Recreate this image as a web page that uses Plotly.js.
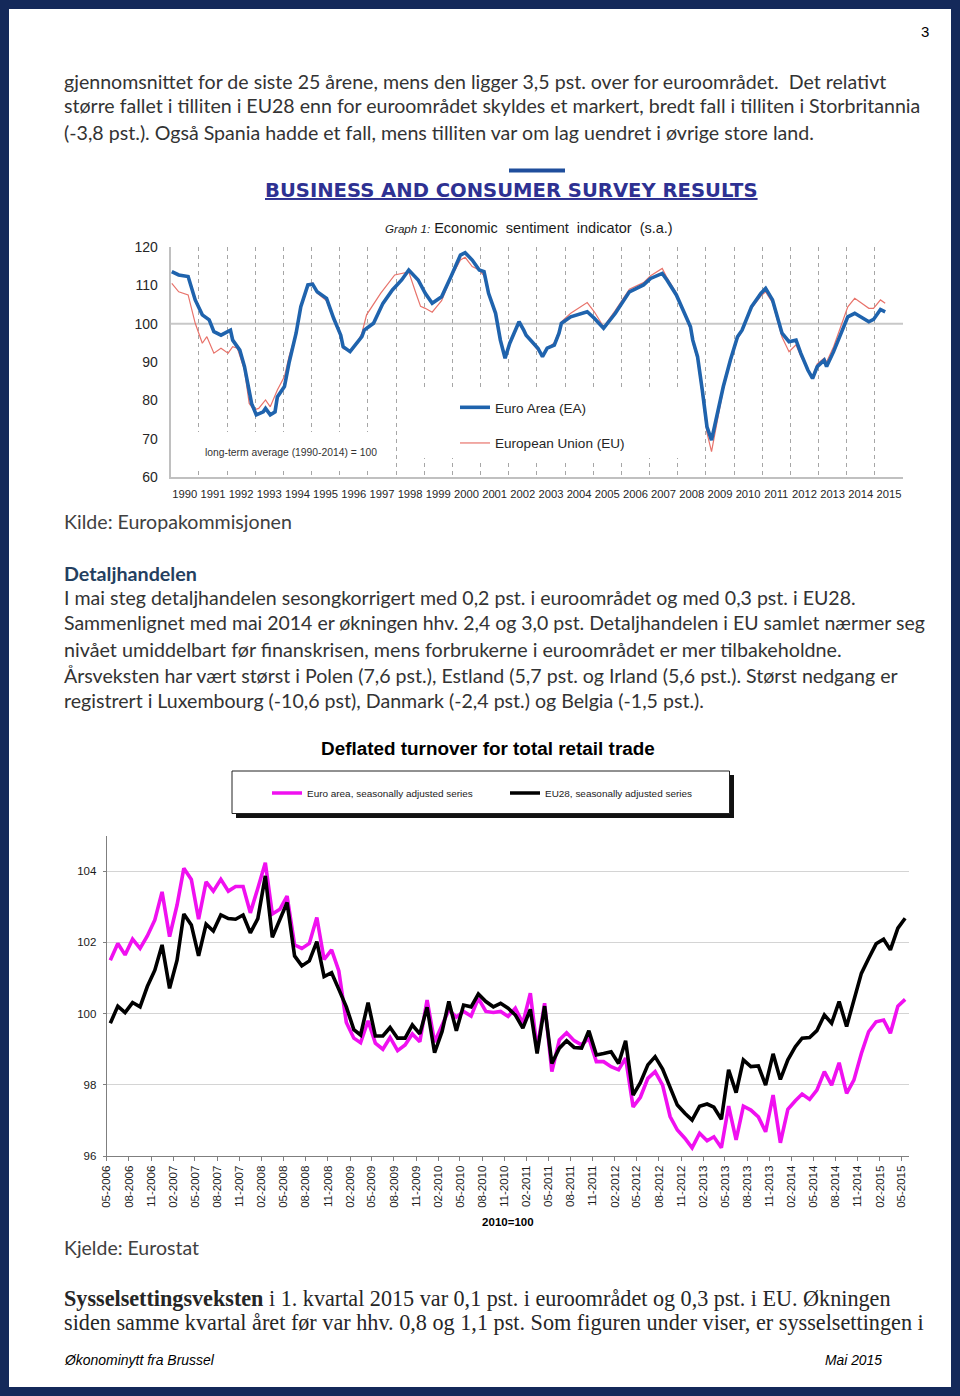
<!DOCTYPE html>
<html><head><meta charset="utf-8">
<script src="https://cdn.plot.ly/plotly-3.0.1.min.js"></script>
<style>html,body{margin:0;padding:0;background:#fff}#page{width:960px;height:1396px}</style>
</head><body><div id="page"></div>
<script>
// ================= DATA =================
// Graph 1: Economic sentiment indicator (s.a.)
const esiDatesEA = ['1990-01','1990-04','1990-08','1990-11','1991-02','1991-05','1991-07','1991-10','1992-02','1992-03','1992-06','1992-08','1992-11','1993-01','1993-04','1993-05','1993-07','1993-09','1993-10','1994-01','1994-03','1994-06','1994-08','1994-11','1995-01','1995-03','1995-07','1995-10','1996-01','1996-02','1996-05','1996-08','1996-10','1996-11','1997-03','1997-07','1997-11','1998-03','1998-06','1998-10','1999-01','1999-04','1999-08','1999-12','2000-04','2000-06','2000-09','2000-12','2001-02','2001-04','2001-07','2001-09','2001-11','2002-01','2002-05','2002-07','2002-08','2003-01','2003-03','2003-05','2003-08','2003-10','2003-11','2004-03','2004-10','2005-01','2005-05','2005-10','2006-04','2006-10','2007-01','2007-06','2007-08','2007-12','2008-03','2008-06','2008-07','2008-09','2008-11','2009-01','2009-03','2009-05','2009-08','2009-11','2010-02','2010-04','2010-08','2010-12','2011-02','2011-05','2011-08','2011-09','2011-12','2012-03','2012-05','2012-08','2012-10','2012-12','2013-03','2013-04','2013-07','2013-10','2014-01','2014-04','2014-10','2014-12','2015-03','2015-05'];
const esiEA = [113.6,112.7,112.3,106.2,102.3,101.0,97.9,97.0,98.3,95.7,93.1,88.8,79.2,76.2,77.0,77.9,76.2,77.0,80.9,83.6,89.7,97.5,104.4,110.1,110.3,108.3,106.6,101.4,97.0,94.0,92.7,94.9,96.6,98.3,100.1,105.3,108.8,111.4,114.0,111.4,107.9,105.3,107.0,112.3,117.9,118.5,116.6,114.0,113.6,107.9,102.7,95.7,91.0,94.9,100.5,98.3,97.0,93.6,91.4,93.6,94.4,97.5,100.1,101.8,103.1,101.4,98.8,102.7,108.3,110.1,111.8,113.1,111.4,107.5,103.6,99.2,95.7,91.4,82.7,73.1,69.6,74.9,83.6,90.5,96.6,98.3,104.4,107.9,109.2,106.2,99.2,97.5,95.3,95.7,92.3,87.9,85.7,88.8,90.5,88.8,92.7,97.5,101.8,102.7,100.5,101.1,103.7,103.1];
const esiDatesEU = ['1990-01','1990-04','1990-08','1990-11','1991-02','1991-04','1991-07','1991-10','1992-01','1992-03','1992-05','1992-08','1992-10','1992-12','1993-02','1993-05','1993-07','1993-10','1994-01','1994-03','1994-06','1994-08','1994-11','1995-01','1995-03','1995-07','1995-10','1996-01','1996-02','1996-05','1996-08','1996-10','1996-12','1997-06','1997-12','1998-03','1998-06','1998-09','1998-11','1999-01','1999-04','1999-06','1999-08','1999-12','2000-04','2000-06','2000-09','2000-12','2001-02','2001-04','2001-07','2001-09','2001-11','2002-01','2002-05','2002-07','2002-08','2003-01','2003-03','2003-05','2003-08','2003-10','2003-11','2004-03','2004-10','2005-01','2005-05','2005-10','2006-04','2006-10','2007-01','2007-06','2007-08','2007-12','2008-03','2008-06','2008-07','2008-09','2008-11','2009-01','2009-03','2009-05','2009-08','2009-11','2010-02','2010-04','2010-08','2010-12','2011-02','2011-05','2011-08','2011-09','2011-12','2012-03','2012-05','2012-08','2012-10','2012-12','2013-03','2013-04','2013-07','2013-10','2014-01','2014-04','2014-10','2014-12','2015-03','2015-05'];
const esiEU = [110.5,108.3,107.5,100.1,94.9,96.6,92.3,93.6,92.3,94.0,93.6,87.9,79.2,77.5,77.9,80.1,78.3,82.7,86.2,91.4,97.5,104.4,110.3,110.6,108.0,106.0,101.0,96.5,93.5,92.8,95.0,97.5,102.3,107.9,112.7,113.0,113.5,108.0,104.5,104.0,103.0,104.5,106.0,112.0,116.6,117.3,114.9,114.0,112.5,107.5,102.5,96.0,91.5,95.0,100.0,98.0,97.0,93.0,91.5,93.5,95.0,98.0,100.5,102.7,105.5,103.1,99.2,103.5,109.0,110.7,112.5,114.4,112.0,108.0,103.5,98.5,95.0,90.5,81.5,71.5,66.6,73.5,83.0,90.0,96.0,98.0,104.0,107.2,108.3,105.5,98.5,96.5,92.7,94.5,91.5,88.0,86.2,89.5,91.0,90.0,94.0,99.0,104.4,106.6,104.0,104.0,106.2,105.3];
const longTermAverage = 100;

// Deflated turnover for total retail trade (2010=100), monthly from 05-2006
const retailStart = [2006, 5];
const retailEA = [101.5,101.97,101.65,102.09,101.83,102.18,102.63,103.42,102.16,103.05,104.08,103.77,102.65,103.7,103.44,103.77,103.44,103.57,103.57,102.83,103.52,104.24,102.8,102.93,103.3,101.93,101.83,101.97,102.7,101.52,101.79,101.2,99.75,99.31,99.18,99.8,99.17,99.0,99.33,98.96,99.12,99.43,99.21,100.38,99.2,99.7,100.1,99.9,100.06,99.93,100.43,100.06,100.03,100.06,99.92,100.15,99.73,100.57,99.0,100.29,98.37,99.26,99.46,99.24,99.12,99.31,98.65,98.65,98.51,98.42,98.75,97.38,97.65,98.18,98.37,97.99,97.11,96.73,96.5,96.23,96.64,96.43,96.54,96.23,97.4,96.45,97.4,97.29,97.1,96.68,97.71,96.37,97.31,97.55,97.74,97.59,97.85,98.37,97.99,98.62,97.76,98.13,98.88,99.49,99.77,99.82,99.45,100.21,100.4];
const retailEU28 = [99.73,100.21,100.03,100.31,100.19,100.76,101.22,101.93,100.71,101.5,102.8,102.49,101.62,102.51,102.32,102.77,102.67,102.65,102.77,102.27,102.67,103.87,102.14,102.63,103.12,101.62,101.34,101.48,102.02,101.04,101.15,100.68,100.19,99.55,99.4,100.31,99.37,99.37,99.61,99.31,99.31,99.68,99.43,100.18,98.9,99.5,100.34,99.52,100.24,100.19,100.55,100.34,100.19,100.29,100.15,99.96,99.59,100.12,98.88,100.21,98.6,99.03,99.24,99.05,99.03,99.52,98.84,98.88,98.93,98.6,99.24,97.71,98.06,98.56,98.79,98.44,97.91,97.43,97.2,97.01,97.4,97.46,97.37,97.03,98.42,97.78,98.7,98.51,98.53,97.99,98.87,98.15,98.7,99.07,99.31,99.33,99.52,99.96,99.73,100.34,99.64,100.38,101.13,101.55,101.96,102.09,101.79,102.4,102.68];

// ================= LAYOUT HELPERS =================
const W = 960, H = 1396;
const px = x => x / W, py = y => 1 - y / H;
const cv = document.createElement('canvas').getContext('2d');
function measure(parts, family) {
  let w = 0;
  for (const p of parts) {
    cv.font = (p.i ? 'italic ' : '') + (p.b ? 'bold ' : '') + '100px ' + family;
    w += cv.measureText(p.t).width * (p.r || 1);
  }
  return w / 100;
}
const fit = (parts, family, target) => target / measure(parts, family);

const BODY = 'Lato, "Open Sans", sans-serif';
const SERIF = '"Liberation Serif", "DejaVu Serif", serif';
const ARIAL = '"Liberation Sans", Arial, sans-serif';
const NARROW = '"Liberation Sans Narrow", "Arial Narrow", "Liberation Sans", Arial, sans-serif';
const VERD = '"DejaVu Sans", Verdana, sans-serif';

const annotations = [];
function textLine(html, parts, family, x, y, targetW, color, anchor) {
  const size = fit(parts, family, targetW);
  annotations.push({xref: 'paper', yref: 'paper', x: px(x), y: py(y), xanchor: anchor || 'left', yanchor: 'middle',
    text: html, showarrow: false, borderpad: 0, borderwidth: 0, align: 'left',
    font: {family: family, size: size, color: color || '#333333'}});
}
const plain = (t, x, y, w, fam, col) => textLine(t, [{t}], fam || BODY, x, y, w, col);

// Body text, top
plain('gjennomsnittet for de siste 25 årene, mens den ligger 3,5 pst. over for euroområdet.  Det relativt', 64, 81, 824);
plain('større fallet i tilliten i EU28 enn for euroområdet skyldes et markert, bredt fall i tilliten i Storbritannia', 64, 106, 857);
plain('(-3,8 pst.). Også Spania hadde et fall, mens tilliten var om lag uendret i øvrige store land.', 64, 132, 751);
annotations.push({xref:'paper',yref:'paper',x:px(925),y:py(32),xanchor:'center',yanchor:'middle',text:'3',showarrow:false,borderpad:0,font:{family:ARIAL,size:15,color:'#000'}});

// Graph 1 headings
textLine('<b><u>BUSINESS AND CONSUMER SURVEY RESULTS</u></b>', [{t:'BUSINESS AND CONSUMER SURVEY RESULTS', b:1}], VERD, 511, 190, 493, '#2e3192', 'center');
(function(){
  const parts = [{t:'Graph 1: ', i:1, r:0.8}, {t:'Economic  sentiment  indicator  (s.a.)'}];
  const s = fit(parts, NARROW, 287);
  annotations.push({xref:'paper',yref:'paper',x:px(385),y:py(228),xanchor:'left',yanchor:'middle',showarrow:false,borderpad:0,borderwidth:0,
    text:'<span style="font-size:'+(s*0.8).toFixed(2)+'px"><i>Graph 1:</i></span> Economic  sentiment  indicator  (s.a.)',
    font:{family:NARROW,size:s,color:'#1a1a1a'}});
})();
plain('long-term average (1990-2014) = 100', 205, 452, 172, NARROW, '#333333');

plain('Kilde: Europakommisjonen', 64, 521, 228, BODY, '#404040');
textLine('<b>Detaljhandelen</b>', [{t:'Detaljhandelen', b:1}], BODY, 64, 573, 133, '#243f60');
plain('I mai steg detaljhandelen sesongkorrigert med 0,2 pst. i euroområdet og med 0,3 pst. i EU28.', 64, 598, 792);
plain('Sammenlignet med mai 2014 er økningen hhv. 2,4 og 3,0 pst. Detaljhandelen i EU samlet nærmer seg', 64, 623, 862);
plain('nivået umiddelbart før finanskrisen, mens forbrukerne i euroområdet er mer tilbakeholdne.', 64, 649, 779);
plain('Årsveksten har vært størst i Polen (7,6 pst.), Estland (5,7 pst. og Irland (5,6 pst.). Størst nedgang er', 64, 675, 835);
plain('registrert i Luxembourg (-10,6 pst), Danmark (-2,4 pst.) og Belgia (-1,5 pst.).', 64, 700, 640);

// Graph 2 title
textLine('<b>Deflated turnover for total retail trade</b>', [{t:'Deflated turnover for total retail trade', b:1}], ARIAL, 488, 748, 334, '#000000', 'center');

plain('Kjelde: Eurostat', 64, 1247, 135, BODY, '#404040');
textLine('<b>Sysselsettingsveksten</b> i 1. kvartal 2015 var 0,1 pst. i euroområdet og 0,3 pst. i EU. Økningen',
  [{t:'Sysselsettingsveksten', b:1}, {t:' i 1. kvartal 2015 var 0,1 pst. i euroområdet og 0,3 pst. i EU. Økningen'}], SERIF, 64, 1298, 827, '#262626');
plain('siden samme kvartal året før var hhv. 0,8 og 1,1 pst. Som figuren under viser, er sysselsettingen i', 64, 1322, 860, SERIF, '#262626');
textLine('<i>Økonominytt fra Brussel</i>', [{t:'Økonominytt fra Brussel', i:1}], ARIAL, 64, 1360, 149, '#000');
textLine('<i>Mai 2015</i>', [{t:'Mai 2015', i:1}], ARIAL, 825, 1360, 57, '#000');

// ================= TRACES =================
const retailDates = retailEA.map((_, k) => {
  const m0 = retailStart[1] - 1 + k;
  const y = retailStart[0] + Math.floor(m0 / 12), m = (m0 % 12) + 1;
  return y + '-' + String(m).padStart(2, '0') + '-16';
});
const esiX = d => d.map(s => s + '-15');

const traces = [
  {x: esiX(esiDatesEU), y: esiEU, name: 'European Union (EU)', type: 'scatter', mode: 'lines',
   line: {color: '#e8736b', width: 1.2}, xaxis: 'x', yaxis: 'y', legend: 'legend', legendgroup: 'eu', legendrank: 2},
  {x: esiX(esiDatesEA), y: esiEA, name: 'Euro Area (EA)', type: 'scatter', mode: 'lines',
   line: {color: '#1f63ad', width: 3.6}, xaxis: 'x', yaxis: 'y', legend: 'legend', legendgroup: 'ea', legendrank: 1},
  {x: retailDates, y: retailEA, name: 'Euro area, seasonally adjusted series', type: 'scatter', mode: 'lines',
   line: {color: '#f010f0', width: 3.6}, xaxis: 'x2', yaxis: 'y2', legend: 'legend2'},
  {x: retailDates, y: retailEU28, name: 'EU28, seasonally adjusted series', type: 'scatter', mode: 'lines',
   line: {color: '#000000', width: 3.6}, xaxis: 'x2', yaxis: 'y2', legend: 'legend2'}
];

// chart geometry (pixels)
const c1 = {x0: 170.7, x1: 903, y0: 477, y1: 247};
const c2 = {x0: 106.7, x1: 909, y0: 1156, y1: 835.6};

const legFont = fit([{t:'Euro Area (EA)'}], NARROW, 92);
const xtickSize = fit([{t:'1990'}], NARROW, 25);
const leg2Font = fit([{t:'Euro area, seasonally adjusted series'}], ARIAL, 166);

const pr = (x0, y0, x1, y1, fill, extra) => Object.assign({type: 'rect', xref: 'paper', yref: 'paper',
  x0: px(x0), x1: px(x1), y0: py(y1), y1: py(y0), fillcolor: fill, line: {width: 0}}, extra || {});

const layout = {
  width: W, height: H, margin: {l: 0, r: 0, t: 0, b: 0},
  paper_bgcolor: '#ffffff', plot_bgcolor: 'rgba(0,0,0,0)',
  showlegend: true,
  xaxis: {type: 'date', domain: [px(c1.x0), px(c1.x1)], anchor: 'y', range: ['1990-01-01', '2016-01-01'],
    tick0: '1990-01-01', dtick: 'M12', tickformat: '%Y', ticklabelmode: 'period',
    showgrid: true, gridcolor: '#a6a6a6', griddash: '4px,4px', gridwidth: 1,
    showline: true, linecolor: '#c0c0c0', linewidth: 2, ticks: '', zeroline: false,
    tickfont: {family: NARROW, size: xtickSize, color: '#262626'}, ticklabelstandoff: 6},
  yaxis: {domain: [py(c1.y0), py(c1.y1)], anchor: 'x', range: [60, 120], tick0: 60, dtick: 10,
    showgrid: false, showline: true, linecolor: '#c0c0c0', linewidth: 2, ticks: '', zeroline: false,
    tickfont: {family: NARROW, size: 14, color: '#262626'}, ticklabelstandoff: 8},
  xaxis2: {type: 'date', domain: [px(c2.x0), px(c2.x1)], anchor: 'y2', range: ['2006-05-01', '2015-06-01'],
    tick0: '2006-05-01', dtick: 'M3', tickformat: '%m-%Y', tickangle: -90,
    showgrid: false, showline: true, linecolor: '#7f7f7f', linewidth: 1, ticks: 'outside', ticklen: 4, tickcolor: '#7f7f7f',
    tickfont: {family: ARIAL, size: 11.5, color: '#1a1a1a'}, zeroline: false,
    title: {text: '<b>2010=100</b>', font: {family: ARIAL, size: 11.5, color: '#000'}, standoff: 11}},
  yaxis2: {domain: [py(c2.y0), py(c2.y1)], anchor: 'x2', range: [96, 105], tick0: 96, dtick: 2,
    showgrid: true, gridcolor: '#d4d4d4', gridwidth: 1, showline: true, linecolor: '#7f7f7f', linewidth: 1,
    ticks: 'outside', ticklen: 3, tickcolor: '#7f7f7f', zeroline: false,
    tickfont: {family: ARIAL, size: 11.5, color: '#1a1a1a'}, ticklabelstandoff: 4},
  legend: {x: px(455), y: py(392), xanchor: 'left', yanchor: 'top', bgcolor: '#ffffff', borderwidth: 0,
    traceorder: 'grouped', tracegroupgap: 15, font: {family: NARROW, size: legFont, color: '#262626'}},
  legend2: {x: px(267), y: py(793), xanchor: 'left', yanchor: 'middle', orientation: 'h', bgcolor: 'rgba(0,0,0,0)', borderwidth: 0,
    entrywidth: 193, entrywidthmode: 'pixels', font: {family: ARIAL, size: leg2Font, color: '#1a1a1a'}},
  annotations: annotations,
  shapes: [
    // long-term average reference line
    {type: 'line', xref: 'x domain', yref: 'y', x0: 0, x1: 1, y0: longTermAverage, y1: longTermAverage,
     line: {color: '#c8c8c8', width: 2}, layer: 'below'},
    // white masks interrupting the dashed year lines behind the legend and the note (no data there)
    pr(400, 387, 690, 458, '#ffffff', {layer: 'above'}),
    pr(196, 432, 388, 470, '#ffffff', {layer: 'above'}),
    // blue header bar
    pr(509, 168.5, 565, 172.5, '#1f4e9c'),
    // legend box for chart 2 with shadow
    pr(236, 775, 734, 818, '#111111'),
    pr(232, 771, 729.5, 813.5, '#ffffff', {line: {color: '#222222', width: 1}}),
    // page frame
    {type: 'rect', xref: 'paper', yref: 'paper', x0: px(4.5), x1: px(955.5), y0: py(1391.5), y1: py(4.5),
     line: {color: '#14295a', width: 9}, fillcolor: 'rgba(0,0,0,0)', layer: 'above'}
  ]
};

Plotly.newPlot('page', traces, layout, {displayModeBar: false, staticPlot: true});
</script></body></html>
